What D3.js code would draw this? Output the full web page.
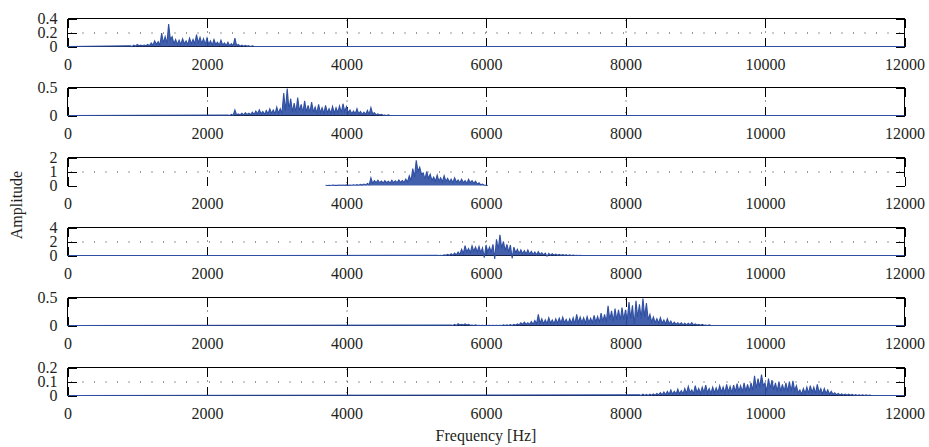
<!DOCTYPE html>
<html>
<head>
<meta charset="utf-8">
<script src="https://cdn.jsdelivr.net/npm/d3@7"></script>
<style>
	body { margin: 0; background: #fff; }
	svg { display: block; }
	text { font-family: 'Liberation Serif', 'DejaVu Serif', serif; fill: #231f20; }
</style>
</head>
<body>
<svg id="chart" width="929" height="447"></svg>
<script>
'use strict'

// x axis
const freqTicks = [0, 2000, 4000, 6000, 8000, 10000, 12000]
const freqMax = 12000

// y ticks per panel
const yTicks1 = [0, 0.2, 0.4]
const yTicks2 = [0, 0.5]
const yTicks3 = [0, 1, 2]
const yTicks4 = [0, 2, 4]
const yTicks5 = [0, 0.5]
const yTicks6 = [0, 0.1, 0.2]

// first frequency of the read band in each panel, and the step between readings (Hz)
const bandStart = [900, 2300, 3700, 5300, 5500, 8200]
const bandStep = 50

// panel 1
const peaks1 = [0.01, 0.02, 0.03, 0.02, 0.02, 0.03, 0.05, 0.08, 0.07, 0.19,
	0.14, 0.32, 0.14, 0.10, 0.09, 0.11, 0.08, 0.12, 0.10, 0.17,
	0.13, 0.11, 0.12, 0.08, 0.10, 0.06, 0.09, 0.05, 0.06, 0.04,
	0.12, 0.03, 0.02, 0.015, 0.01, 0.01]
const troughs1 = [0, 0.005, 0.01, 0.01, 0.01, 0.01, 0.02, 0.03, 0.02, 0.05,
	0.04, 0.10, 0.04, 0.03, 0.03, 0.04, 0.03, 0.04, 0.04, 0.05,
	0.04, 0.03, 0.03, 0.02, 0.03, 0.02, 0.02, 0.015, 0.01, 0.01,
	0.01, 0.005, 0.005, 0.005, 0, 0]

// panel 2
const peaks2 = [0.01, 0.02, 0.10, 0.03, 0.04, 0.05, 0.04, 0.06, 0.08, 0.10,
	0.07, 0.09, 0.12, 0.10, 0.15, 0.12, 0.40, 0.48, 0.30, 0.22,
	0.32, 0.20, 0.26, 0.18, 0.24, 0.15, 0.20, 0.14, 0.18, 0.12,
	0.16, 0.14, 0.17, 0.21, 0.16, 0.10, 0.08, 0.12, 0.07, 0.06,
	0.09, 0.14, 0.05, 0.03, 0.02, 0.01, 0.01]
const troughs2 = [0, 0.005, 0.01, 0.01, 0.01, 0.02, 0.015, 0.02, 0.03, 0.03,
	0.02, 0.03, 0.04, 0.03, 0.04, 0.04, 0.08, 0.10, 0.06, 0.05,
	0.08, 0.05, 0.06, 0.05, 0.06, 0.04, 0.05, 0.04, 0.05, 0.04,
	0.04, 0.05, 0.05, 0.07, 0.05, 0.03, 0.03, 0.03, 0.02, 0.02,
	0.02, 0.03, 0.01, 0.01, 0.005, 0, 0]

// panel 3
const peaks3 = [0.02, 0.02, 0.03, 0.02, 0.03, 0.03, 0.04, 0.04, 0.05, 0.06,
	0.08, 0.10, 0.15, 0.55, 0.35, 0.38, 0.32, 0.35, 0.30, 0.38,
	0.34, 0.40, 0.35, 0.45, 0.70, 1.20, 1.80, 1.30, 0.90, 1.00,
	0.80, 0.60, 0.75, 0.55, 0.70, 0.50, 0.45, 0.55, 0.40, 0.45,
	0.35, 0.45, 0.35, 0.30, 0.20, 0.10, 0.02]
const troughs3 = [0, 0, 0.01, 0.01, 0.01, 0.01, 0.01, 0.02, 0.02, 0.02,
	0.03, 0.04, 0.05, 0.15, 0.20, 0.20, 0.18, 0.20, 0.18, 0.20,
	0.20, 0.22, 0.22, 0.25, 0.35, 0.60, 1.00, 0.80, 0.45, 0.50,
	0.35, 0.30, 0.30, 0.25, 0.30, 0.25, 0.20, 0.25, 0.20, 0.20,
	0.15, 0.20, 0.15, 0.10, 0.05, 0.02, 0]

// panel 4
const peaks4 = [0.02, 0.04, 0.08, 0.15, 0.25, 0.35, 0.50, 0.90, 1.40, 1.00,
	1.40, 1.20, 1.30, 1.10, 1.50, 1.20, 1.60, 2.30, 2.95, 2.00,
	1.60, 1.50, 1.20, 0.90, 0.80, 0.70, 0.80, 0.60, 0.50, 0.55,
	0.40, 0.35, 0.30, 0.25, 0.20, 0.15, 0.12, 0.10, 0.08, 0.06,
	0.04, 0.02, 0.01]
const troughs4 = [0, 0.01, 0.02, 0.03, 0.05, 0.10, 0.15, 0.30, 0.50, 0.40,
	0.60, 0.50, 0.40, -0.30, 0.50, 0.50, -0.50, 0.80, 1.00, 0.70,
	0.50, -0.40, 0.40, 0.30, 0.25, 0.20, 0.20, 0.15, 0.10, 0.15,
	0.10, -0.10, 0.05, 0.05, 0.03, 0.02, 0.02, 0.01, 0.01, 0,
	0, 0, 0]

// panel 5
const peaks5 = [0.01, 0.02, 0.03, 0.02, 0.03, 0.02, 0.01, 0.01, 0.005, 0.005,
	0.005, 0.005, 0.005, 0.005, 0.005, 0.01, 0.01, 0.015, 0.02, 0.03,
	0.05, 0.06, 0.05, 0.07, 0.09, 0.20, 0.12, 0.10, 0.14, 0.10,
	0.12, 0.13, 0.15, 0.11, 0.12, 0.14, 0.20, 0.15, 0.14, 0.16,
	0.13, 0.18, 0.16, 0.22, 0.20, 0.35, 0.26, 0.30, 0.28, 0.32,
	0.28, 0.42, 0.36, 0.44, 0.38, 0.48, 0.40, 0.20, 0.15, 0.12,
	0.14, 0.10, 0.12, 0.08, 0.06, 0.05, 0.05, 0.04, 0.04, 0.05,
	0.03, 0.02, 0.02, 0.01, 0.01]
const troughs5 = [0, 0, 0.01, 0.01, 0.01, 0.005, 0, 0, 0, 0,
	0, 0, 0, 0, 0, 0, 0, 0, 0.005, 0.01,
	0.02, 0.02, 0.02, 0.02, 0.03, 0.04, 0.03, 0.03, 0.04, 0.03,
	0.04, 0.04, 0.05, 0.03, 0.04, 0.03, 0.05, 0.05, 0.04, 0.05,
	0.05, 0.06, 0.05, 0.07, 0.06, 0.10, 0.08, 0.10, 0.09, 0.10,
	0.09, 0.12, 0, 0.14, 0.12, 0.15, 0.10, 0.06, 0.05, 0.04,
	0.04, 0.03, 0.03, 0.02, 0.02, 0.02, 0.01, 0.01, 0.01, 0.01,
	0.01, 0.005, 0.005, 0, 0]

// panel 6
const peaks6 = [0.005, 0.01, 0.008, 0.01, 0.012, 0.015, 0.02, 0.025, 0.03, 0.04,
	0.03, 0.045, 0.035, 0.05, 0.065, 0.04, 0.07, 0.05, 0.06, 0.075,
	0.05, 0.06, 0.055, 0.07, 0.06, 0.08, 0.065, 0.075, 0.085, 0.07,
	0.09, 0.08, 0.09, 0.14, 0.12, 0.15, 0.09, 0.12, 0.11, 0.09,
	0.10, 0.08, 0.09, 0.10, 0.105, 0.07, 0.04, 0.05, 0.06, 0.07,
	0.06, 0.08, 0.05, 0.05, 0.04, 0.03, 0.02, 0.015, 0.012, 0.01,
	0.01, 0.008, 0.006, 0.005, 0.005, 0.004, 0.003]
const troughs6 = [0, 0, 0, 0.002, 0.003, 0.004, 0.005, 0.006, 0.008, 0.01,
	0.01, 0.012, 0.01, 0.015, 0.02, 0.012, 0.02, 0.015, 0.02, 0.02,
	0.015, 0.02, 0.02, 0.025, 0.02, 0.025, 0.02, 0.025, 0.03, 0.025,
	0.03, 0.03, 0.035, 0.05, 0.06, 0.07, 0.03, 0.05, 0.04, 0.03,
	0.03, 0.03, 0.03, 0.03, 0.035, 0.02, 0.01, 0.015, 0.015, 0.02,
	0.015, 0.02, 0.01, 0.015, 0.01, 0.008, 0.005, 0.004, 0.003, 0.002,
	0.002, 0, 0, 0, 0, 0, 0]

const panels = [
	{yTicks: yTicks1, peaks: peaks1, troughs: troughs1, midGrid: true},
	{yTicks: yTicks2, peaks: peaks2, troughs: troughs2, midGrid: false},
	{yTicks: yTicks3, peaks: peaks3, troughs: troughs3, midGrid: true, noBaseline: true},
	{yTicks: yTicks4, peaks: peaks4, troughs: troughs4, midGrid: true},
	{yTicks: yTicks5, peaks: peaks5, troughs: troughs5, midGrid: false},
	{yTicks: yTicks6, peaks: peaks6, troughs: troughs6, midGrid: true}
]

const params = {
	left: 67.5,
	right: 904.5,
	top: 17.5,
	pitch: 69.8,
	height: 28,
	tickLen: 9,
	fontSize: 16,
	lineColor: '#2f4fa3'
}

const svg = d3.select('#chart')

const x = d3.scaleLinear()
	.domain([0, freqMax])
	.range([params.left, params.right])

function buildSeries(start, peaks, troughs, flat) {
	const pts = []
	if (flat)
		pts.push({f: 0, a: 0})
	peaks.forEach((p, i) => {
		const f = start + i * bandStep
		pts.push({f: f, a: p})
		pts.push({f: f + bandStep / 2, a: troughs[i]})
	})
	if (flat)
		pts.push({f: freqMax, a: 0})
	return pts
}

function styleText(sel) {
	sel.selectAll('text')
		.attr('font-family', '\'Liberation Serif\', serif')
		.attr('font-size', params.fontSize)
		.attr('fill', '#231f20')
}

panels.forEach((panel, i) => {
	const top = Math.round(params.top + i * params.pitch) + 0.5
	const bottom = top + params.height
	const yMax = panel.yTicks[panel.yTicks.length - 1]
	const y = d3.scaleLinear().domain([0, yMax]).range([bottom, top])
	const g = svg.append('g').attr('class', 'panel').attr('id', `P${i}`)

	// dotted grid
	const innerX = freqTicks.filter((t) => t > 0 && t < freqMax)
	g.append('g')
		.attr('transform', `translate(0, ${top})`)
		.call(d3.axisBottom(x).tickValues(innerX).tickSize(params.height).tickFormat(''))
		.call((a) => a.select('.domain').remove())
		.selectAll('line')
		.attr('stroke', '#333')
		.attr('stroke-dasharray', '1,10.5')
		.attr('stroke-dashoffset', -params.tickLen - 4)
	if (panel.midGrid) {
		g.append('g')
			.attr('transform', `translate(${params.left}, 0)`)
			.call(d3.axisRight(y).tickValues([panel.yTicks[1]]).tickSize(params.right - params.left).tickFormat(''))
			.call((a) => a.select('.domain').remove())
			.selectAll('line')
			.attr('stroke', '#333')
			.attr('stroke-dasharray', '1,10.5')
			.attr('stroke-dashoffset', -params.tickLen - 6)
	}

	// inward ticks on all four sides
	const tickStyle = (a) => {
		a.select('.domain').remove()
		a.selectAll('line').attr('stroke', '#000').attr('shape-rendering', 'crispEdges')
	}
	g.append('g').attr('transform', `translate(0, ${top})`)
		.call(d3.axisBottom(x).tickValues(freqTicks).tickSize(params.tickLen).tickFormat(''))
		.call(tickStyle)
	g.append('g').attr('transform', `translate(0, ${bottom})`)
		.call(d3.axisTop(x).tickValues(freqTicks).tickSize(params.tickLen).tickFormat(''))
		.call(tickStyle)
	g.append('g').attr('transform', `translate(${params.left}, 0)`)
		.call(d3.axisRight(y).tickValues(panel.yTicks).tickSize(params.tickLen).tickFormat(''))
		.call(tickStyle)
	g.append('g').attr('transform', `translate(${params.right}, 0)`)
		.call(d3.axisLeft(y).tickValues(panel.yTicks).tickSize(params.tickLen).tickFormat(''))
		.call(tickStyle)

	// box
	const box = g.append('g').attr('stroke', '#000').attr('shape-rendering', 'crispEdges')
	box.append('line').attr('x1', params.left).attr('x2', params.right).attr('y1', top).attr('y2', top)
	box.append('line').attr('x1', params.left).attr('x2', params.left).attr('y1', top).attr('y2', bottom)
	if (panel.noBaseline) {
		// this panel lost its bottom edge and most of its right edge in the source
		box.append('line').attr('x1', params.right).attr('x2', params.right).attr('y1', top).attr('y2', y(yMax * 0.3))
	}
	else {
		box.append('line').attr('x1', params.left).attr('x2', params.right).attr('y1', bottom).attr('y2', bottom)
		box.append('line').attr('x1', params.right).attr('x2', params.right).attr('y1', top).attr('y2', bottom)
	}

	// tick labels
	g.append('g').attr('transform', `translate(0, ${bottom})`)
		.call(d3.axisBottom(x).tickValues(freqTicks).tickSize(0).tickPadding(12).tickFormat((d) => d))
		.call((a) => a.select('.domain').remove())
		.call(styleText)
	g.append('g').attr('transform', `translate(${params.left - 10}, 0)`)
		.call(d3.axisLeft(y).tickValues(panel.yTicks).tickSize(0).tickPadding(0).tickFormat((d) => d))
		.call((a) => a.select('.domain').remove())
		.call(styleText)

	// spectrum: dense trace, so the area under it reads as a filled band
	const series = buildSeries(bandStart[i], panel.peaks, panel.troughs, !panel.noBaseline)
	const fill = d3.area()
		.x((d) => x(d.f))
		.y0(y(0))
		.y1((d) => y(d.a))
	const trace = d3.line()
		.x((d) => x(d.f))
		.y((d) => y(d.a))
	g.append('path')
		.attr('class', 'spectrumFill')
		.attr('fill', params.lineColor)
		.attr('fill-opacity', 0.9)
		.attr('d', fill(series))
	g.append('path')
		.attr('class', 'spectrum')
		.attr('fill', 'none')
		.attr('stroke', params.lineColor)
		.attr('stroke-width', 1.1)
		.attr('d', trace(series))
})

svg.append('text')
	.attr('x', (params.left + params.right) / 2)
	.attr('y', 441)
	.attr('text-anchor', 'middle')
	.attr('font-size', params.fontSize)
	.text('Frequency [Hz]')

svg.append('text')
	.attr('transform', 'translate(22, 205) rotate(-90)')
	.attr('text-anchor', 'middle')
	.attr('font-size', params.fontSize)
	.text('Amplitude')
</script>
</body>
</html>
